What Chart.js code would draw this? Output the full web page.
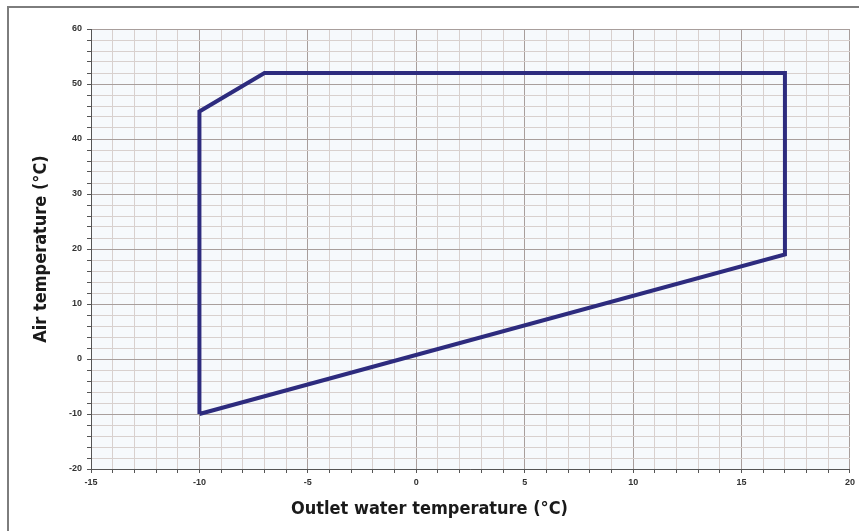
<!DOCTYPE html>
<html>
<head>
<meta charset="utf-8">
<script src="https://cdn.jsdelivr.net/npm/chart.js@4"></script>
<style>
  html, body { margin: 0; padding: 0; background: #fff; overflow: hidden; }
  #wrap { position: relative; width: 859px; height: 531px; }
  #frame { position: absolute; left: 7px; top: 6px; right: -10px; bottom: -10px;
           border-left: 2px solid #7d7d7d; border-top: 2px solid #7d7d7d; pointer-events: none; }
</style>
</head>
<body>
<div id="wrap">
  <canvas id="chart"></canvas>
  <div id="frame"></div>
</div>
<script>
// operating envelope corners, in drawing order
const waterTemp = [-10, -10, -7, 17, 17, -10];
const airTemp = [-10, 45, 52, 52, 19, -10];

// labelled (major) ticks
const xTickLabels = [-15, -10, -5, 0, 5, 10, 15, 20];
const yTickLabels = [-20, -10, 0, 10, 20, 30, 40, 50, 60];

const majorGrid = '#a89e9c';
const minorGrid = '#d8d0ce';
const tickFont = { family: "'Liberation Sans', Arial, sans-serif", size: 9, weight: 'bold' };
const titleFont = { family: "'Liberation Sans Narrow', 'DejaVu Sans Condensed', 'Liberation Sans', sans-serif", size: 18, weight: 'bold', lineHeight: '20px' };

const points = waterTemp.map((x, i) => ({ x: x, y: airTemp[i] }));

function gridColor(labels) {
    return (ctx) => (ctx.tick && labels.includes(ctx.tick.value)) ? majorGrid : minorGrid;
}

const plotBg = {
    id: 'plotBg',
    beforeDraw(chart) {
        const { ctx, chartArea: a } = chart;
        ctx.save();
        ctx.fillStyle = '#f6f9fc';
        ctx.fillRect(a.left, a.top, a.right - a.left, a.bottom - a.top);
        ctx.restore();
    }
};

const config = {
    type: 'scatter',
    data: {
        datasets: [{
            label: 'Envelope',
            data: points,
            showLine: true,
            borderColor: '#2d2b7e',
            borderWidth: 4,
            borderJoinStyle: 'miter',
            pointRadius: 0,
            fill: false
        }]
    },
    options: {
        responsive: true,
        maintainAspectRatio: false,
        animation: false,
        layout: { padding: { top: 29, left: 9, right: 9, bottom: 0 } },
        plugins: {
            legend: { display: false },
            tooltip: { enabled: false },
            title: {
                display: true,
                position: 'bottom',
                text: 'Outlet water temperature (°C)',
                color: '#1a1a1a',
                font: titleFont,
                padding: { top: 0, bottom: 12 }
            }
        },
        scales: {
            x: {
                type: 'linear',
                min: -15,
                max: 20,
                ticks: {
                    stepSize: 1,
                    autoSkip: false,
                    maxRotation: 0,
                    padding: 4,
                    color: '#333',
                    font: tickFont,
                    callback: (v) => xTickLabels.includes(v) ? String(v) : ''
                },
                grid: { color: gridColor(xTickLabels), tickLength: 4, tickColor: '#555' },
                border: { color: '#555' },
                afterFit(s) { s.height = 30; }
            },
            y: {
                min: -20,
                max: 60,
                ticks: {
                    stepSize: 2,
                    autoSkip: false,
                    padding: 5,
                    color: '#333',
                    font: tickFont,
                    callback: (v) => yTickLabels.includes(v) ? String(v) : ''
                },
                grid: { color: gridColor(yTickLabels), tickLength: 4, tickColor: '#555' },
                border: { color: '#555' },
                title: {
                    display: true,
                    text: 'Air temperature (°C)',
                    color: '#1a1a1a',
                    font: titleFont,
                    padding: { top: 22, bottom: 0 }
                },
                afterFit(s) { s.width = 82; }
            }
        }
    },
    plugins: [plotBg]
};

var chart = new Chart(document.getElementById('chart'), config);
</script>
</body>
</html>
